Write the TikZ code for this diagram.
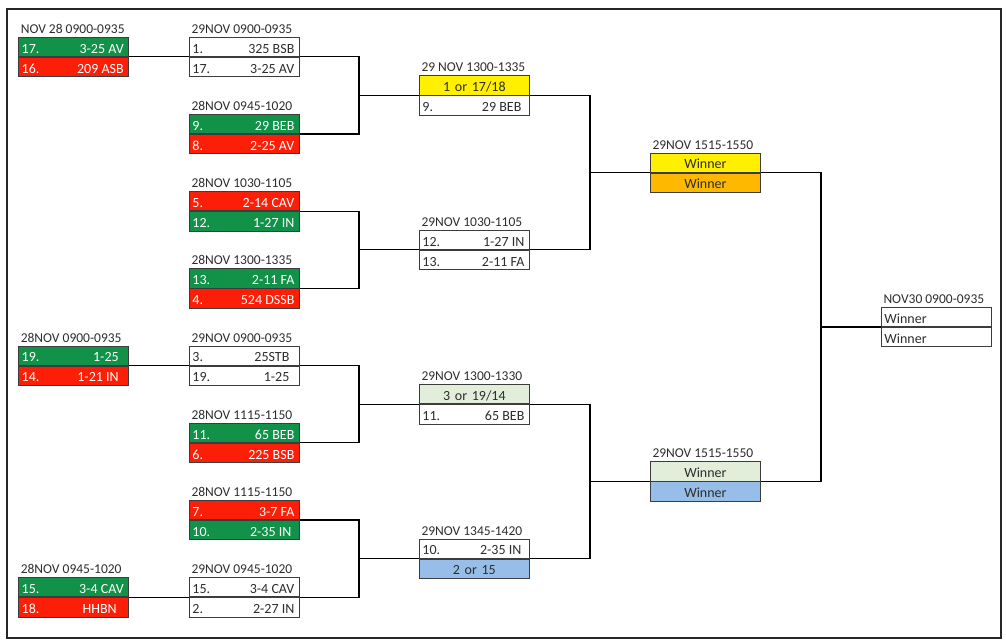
\documentclass[tikz,border=0pt]{standalone}
\usepackage{fontspec}
\setmainfont{Carlito}
\definecolor{cgreen}{RGB}{18,146,72}
\definecolor{cred}{RGB}{252,30,6}
\definecolor{cyellow}{RGB}{255,240,0}
\definecolor{corange}{RGB}{255,184,0}
\definecolor{clgreen}{RGB}{226,238,218}
\definecolor{cblue}{RGB}{150,190,232}
\definecolor{ctext}{RGB}{45,45,45}
\definecolor{cborder}{RGB}{60,60,60}
\tikzset{
  cell/.style={draw=cborder, line width=0.8pt, minimum width=110pt, minimum height=19.3pt,
    inner ysep=0pt, inner xsep=3pt, text width=104pt, text height=15.9pt, text depth=3.4pt,
    anchor=north west, align=flush left, font=\fontsize{14}{15}\selectfont},
  gr/.style={cell, fill=cgreen, text=white},
  rd/.style={cell, fill=cred, text=white},
  wt/.style={cell, fill=white, text=ctext},
  ye/.style={cell, fill=cyellow, text=ctext, align=center},
  og/.style={cell, fill=corange, text=ctext, align=center},
  lg/.style={cell, fill=clgreen, text=ctext, align=center},
  bl/.style={cell, fill=cblue, text=ctext, align=center},
  lbl/.style={anchor=base west, inner sep=0pt, text=ctext, font=\fontsize{13.5}{14}\selectfont},
  conn/.style={line width=1.2pt, black},
  frame/.style={line width=1.5pt, draw=black!85}
}
\newcommand{\LR}[2]{#1\hfill #2\kern2pt}
\newcommand{\mymatch}[8]{%
  \node[#5] (#1a) at (#2,#3) {#6};
  \node[#7] (#1b) at (#1a.south west) {#8};
  \node[lbl] (#1l) at ([xshift=2.3pt,yshift=3.4pt]#1a.north west) {#4};
}
\begin{document}
\begin{tikzpicture}[x=1pt,y=-1pt]
\useasboundingbox (0,0) rectangle (1006,641);
\draw[frame] (7,9) rectangle (1001,638);
% column 1
\mymatch{p}{18.3}{36.7}{NOV 28 0900-0935}{gr}{\LR{17.}{3-25 AV}}{rd}{\LR{16.}{209 ASB}}
\mymatch{q}{18.3}{345.5}{28NOV 0900-0935}{gr}{\LR{19.}{1-25\kern5pt}}{rd}{\LR{14.}{1-21 IN\kern5pt}}
\mymatch{r}{18.3}{577.1}{28NOV 0945-1020}{gr}{\LR{15.}{3-4 CAV}}{rd}{\LR{18.}{HHBN\kern7pt}}
% column 2
\mymatch{sA}{189}{36.7}{29NOV 0900-0935}{wt}{\LR{1.}{325 BSB}}{wt}{\LR{17.}{3-25 AV}}
\mymatch{sB}{189}{113.9}{28NOV 0945-1020}{gr}{\LR{9.}{29 BEB}}{rd}{\LR{8.}{2-25 AV}}
\mymatch{sC}{189}{191.1}{28NOV 1030-1105}{rd}{\LR{5.}{2-14 CAV}}{gr}{\LR{12.}{1-27 IN}}
\mymatch{sD}{189}{268.3}{28NOV 1300-1335}{gr}{\LR{13.}{2-11 FA}}{rd}{\LR{4.}{524 DSSB}}
\mymatch{sE}{189}{345.5}{29NOV 0900-0935}{wt}{\LR{3.}{25STB\kern5pt}}{wt}{\LR{19.}{1-25\kern5pt}}
\mymatch{sF}{189}{422.7}{28NOV 1115-1150}{gr}{\LR{11.}{65 BEB}}{rd}{\LR{6.}{225 BSB}}
\mymatch{sG}{189}{499.9}{28NOV 1115-1150}{rd}{\LR{7.}{3-7 FA}}{gr}{\LR{10.}{2-35 IN\kern3pt}}
\mymatch{sH}{189}{577.1}{29NOV 0945-1020}{wt}{\LR{15.}{3-4 CAV}}{wt}{\LR{2.}{2-27 IN}}
% column 3
\mymatch{tA}{419}{75.3}{29 NOV 1300-1335}{ye}{1 or 17/18}{wt}{\LR{9.}{29 BEB\kern3pt}}
\mymatch{tB}{419}{229.7}{29NOV 1030-1105}{wt}{\LR{12.}{1-27 IN}}{wt}{\LR{13.}{2-11 FA}}
\mymatch{tC}{419}{384.1}{29NOV 1300-1330}{lg}{3 or 19/14}{wt}{\LR{11.}{65 BEB}}
\mymatch{tD}{419}{538.5}{29NOV 1345-1420}{wt}{\LR{10.}{2-35 IN\kern3pt}}{bl}{2 or 15}
% column 4
\mymatch{uA}{650}{152.5}{29NOV 1515-1550}{ye}{Winner}{og}{Winner}
\mymatch{uB}{650}{461.3}{29NOV 1515-1550}{lg}{Winner}{bl}{Winner}
% final
\mymatch{v}{881}{306.9}{NOV30 0900-0935}{wt}{Winner}{wt}{Winner}
% connectors column 1 -> column 2
\draw[conn] (pa.south east) -- (sAa.south west);
\draw[conn] (qa.south east) -- (sEa.south west);
\draw[conn] (ra.south east) -- (sHa.south west);
% joins
\coordinate (j1) at ([xshift=-60pt]tAa.south west);
\coordinate (j2) at ([xshift=-60pt]tBa.south west);
\coordinate (j3) at ([xshift=-60pt]tCa.south west);
\coordinate (j4) at ([xshift=-60pt]tDa.south west);
\coordinate (j5) at ([xshift=-60pt]uAa.south west);
\coordinate (j6) at ([xshift=-60pt]uBa.south west);
\coordinate (j7) at ([xshift=-60pt]va.south west);
\draw[conn] (sAa.south east) -| (j1) |- (sBa.south east);
\draw[conn] (j1) -- (tAa.south west);
\draw[conn] (sCa.south east) -| (j2) |- (sDa.south east);
\draw[conn] (j2) -- (tBa.south west);
\draw[conn] (sEa.south east) -| (j3) |- (sFa.south east);
\draw[conn] (j3) -- (tCa.south west);
\draw[conn] (sGa.south east) -| (j4) |- (sHa.south east);
\draw[conn] (j4) -- (tDa.south west);
\draw[conn] (tAa.south east) -| (j5) |- (tBa.south east);
\draw[conn] (j5) -- (uAa.south west);
\draw[conn] (tCa.south east) -| (j6) |- (tDa.south east);
\draw[conn] (j6) -- (uBa.south west);
\draw[conn] (uAa.south east) -| (j7) |- (uBa.south east);
\draw[conn] (j7) -- (va.south west);
\end{tikzpicture}
\end{document}
